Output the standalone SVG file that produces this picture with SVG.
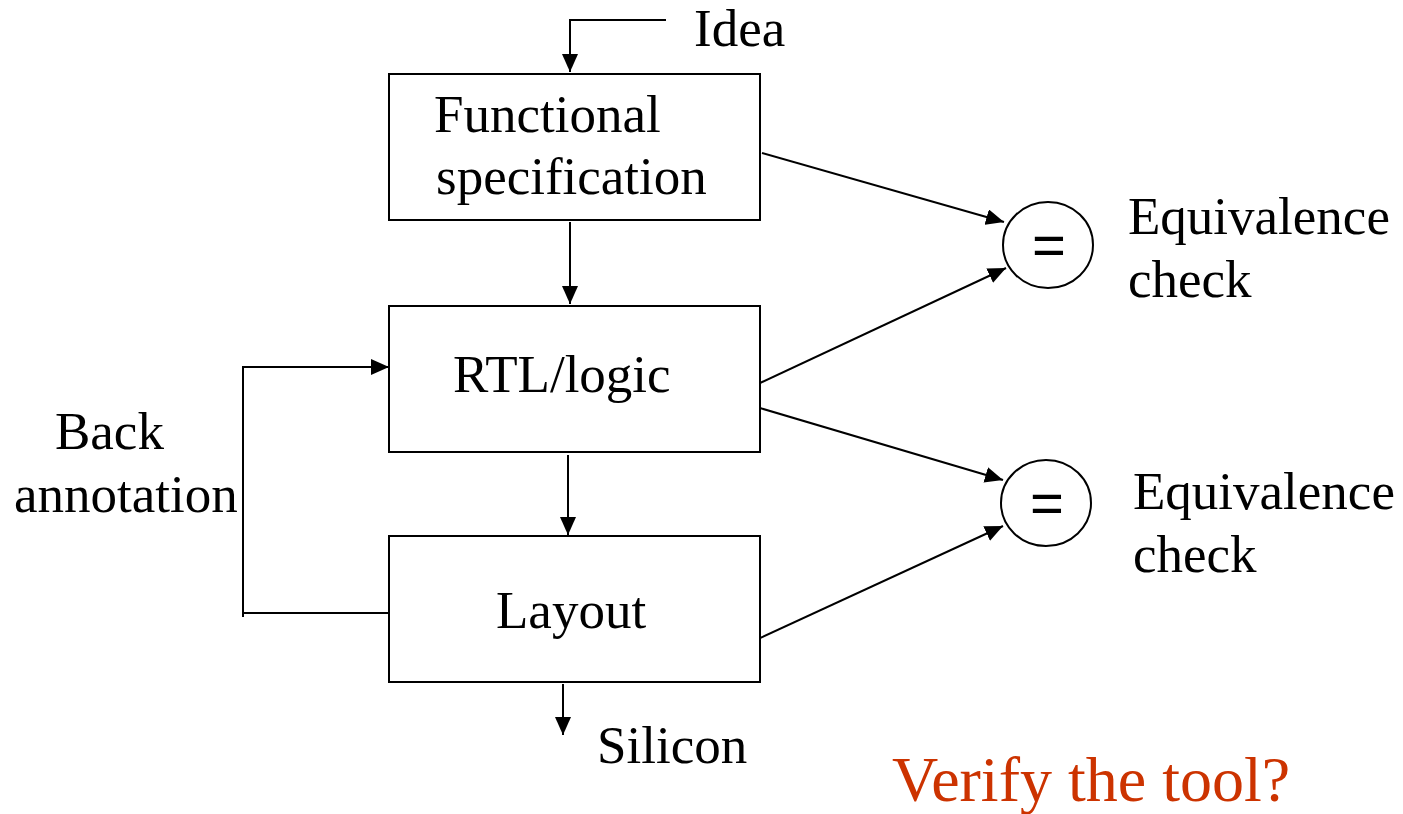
<svg xmlns="http://www.w3.org/2000/svg" width="1403" height="814" viewBox="0 0 1403 814">
<style>
.box{fill:#fff;stroke:#000;stroke-width:2}
.ln{fill:none;stroke:#000;stroke-width:2}
.t{font-family:"Liberation Serif","Times New Roman",serif;font-size:53px;fill:#000}
.eq{font-family:"Liberation Sans",Arial,sans-serif;font-size:58px;fill:#000}
</style>
<defs>
<marker id="ahb" markerWidth="9" markerHeight="8" refX="9" refY="4" orient="auto" markerUnits="strokeWidth" viewBox="0 0 9 8">
<path d="M0,0 L9,4 L0,8 Z" fill="#000"/>
</marker>
</defs>
<g id="connectors">
<path class="ln" d="M666,20 H570 V72" marker-end="url(#ahb)"/>
<path class="ln" d="M570,222 V304" marker-end="url(#ahb)"/>
<path class="ln" d="M568,455 V535" marker-end="url(#ahb)"/>
<path class="ln" d="M563,684 V735" marker-end="url(#ahb)"/>
<path class="ln" d="M243,366 V617"/>
<path class="ln" d="M244,367 H389" marker-end="url(#ahb)"/>
<path class="ln" d="M244,613 H392"/>
<path class="ln" d="M762,153 L1004,222" marker-end="url(#ahb)"/>
<path class="ln" d="M760,383 L1006,268" marker-end="url(#ahb)"/>
<path class="ln" d="M760,408 L1003,480" marker-end="url(#ahb)"/>
<path class="ln" d="M758,639 L1003,526" marker-end="url(#ahb)"/>
</g>
<g id="idea"><text class="t" x="694" y="46">Idea</text></g>
<g id="functional">
<rect class="box" x="389" y="74" width="371" height="146"/>
<text class="t" x="434" y="132">Functional</text>
<text class="t" x="436" y="194">specification</text>
</g>
<g id="rtl">
<rect class="box" x="389" y="306" width="371" height="146"/>
<text class="t" x="453" y="392">RTL/logic</text>
</g>
<g id="layout">
<rect class="box" x="389" y="536" width="371" height="146"/>
<text class="t" x="496" y="628">Layout</text>
</g>
<g id="silicon"><text class="t" x="597" y="763">Silicon</text></g>
<g id="backann">
<text class="t" x="55" y="449">Back</text>
<text class="t" x="14" y="512">annotation</text>
</g>
<g id="eq1">
<ellipse class="box" cx="1048" cy="245" rx="45" ry="43"/>
<text class="eq" x="1049" y="265" text-anchor="middle">=</text>
<text class="t" x="1128" y="234">Equivalence</text>
<text class="t" x="1128" y="297">check</text>
</g>
<g id="eq2">
<ellipse class="box" cx="1046" cy="503" rx="45" ry="43"/>
<text class="eq" x="1047" y="523" text-anchor="middle">=</text>
<text class="t" x="1133" y="509">Equivalence</text>
<text class="t" x="1133" y="572">check</text>
</g>
<g id="verify"><text x="892" y="801" style="font-family:'Liberation Serif','Times New Roman',serif;font-size:64px;fill:#cc3300">Verify the tool?</text></g>
</svg>
